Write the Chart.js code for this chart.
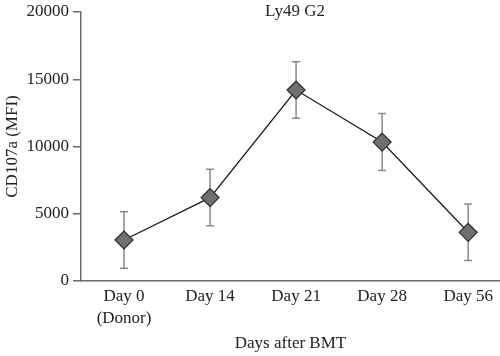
<!DOCTYPE html>
<html>
<head>
<meta charset="utf-8">
<script src="https://cdn.jsdelivr.net/npm/chart.js@4/dist/chart.umd.min.js"></script>
<style>
html,body{margin:0;padding:0;background:#fff;overflow:hidden;}
#wrap{width:500px;height:356px;}
</style>
</head>
<body>
<div id="wrap"><canvas id="c" width="500" height="356"></canvas></div>
<script>
const categories = [["Day 0", "(Donor)"], "Day 14", "Day 21", "Day 28", "Day 56"];
const meanValues = [3050, 6200, 14200, 10330, 3620];
const errorValues = [2100, 2100, 2100, 2120, 2100];
const yTicks = [0, 5000, 10000, 15000, 20000];
const chartTitle = "Ly49 G2";
const xTitle = "Days after BMT";
const yTitle = "CD107a (MFI)";

const FONT = "'Liberation Serif', 'DejaVu Serif', serif";
const points = meanValues.map((v, i) => ({x: i, y: v}));

const errorBarPlugin = {
  id: 'errorBars',
  beforeDatasetsDraw(chart) {
    const {ctx, scales: {x, y}} = chart;
    ctx.save();
    ctx.strokeStyle = '#8a8a8a';
    ctx.lineWidth = 1.5;
    meanValues.forEach((v, i) => {
      const px = x.getPixelForValue(i);
      const top = y.getPixelForValue(v + errorValues[i]);
      const bot = y.getPixelForValue(v - errorValues[i]);
      ctx.beginPath();
      ctx.moveTo(px, top); ctx.lineTo(px, bot);
      ctx.moveTo(px - 4, top); ctx.lineTo(px + 4, top);
      ctx.moveTo(px - 4, bot); ctx.lineTo(px + 4, bot);
      ctx.stroke();
    });
    ctx.restore();
  }
};

const titlePlugin = {
  id: 'topTitle',
  afterDraw(chart) {
    const {ctx} = chart;
    ctx.save();
    ctx.font = "17px " + FONT;
    ctx.fillStyle = '#222';
    ctx.textAlign = 'center';
    ctx.textBaseline = 'middle';
    ctx.fillText(chartTitle, 295, 12);
    ctx.restore();
  }
};

new Chart(document.getElementById('c'), {
  type: 'line',
  data: {
    datasets: [{
      data: points,
      borderColor: '#1a1a1a',
      borderWidth: 1.3,
      pointStyle: 'rectRot',
      pointRadius: 9,
      pointHoverRadius: 9,
      pointBackgroundColor: '#6f6f6f',
      pointBorderColor: '#2a2a2a',
      pointBorderWidth: 1.2,
      tension: 0,
      clip: false
    }]
  },
  options: {
    responsive: false,
    animation: false,
    layout: {autoPadding: false, padding: {top: 12, right: 0, left: 0, bottom: 0}},
    plugins: {legend: {display: false}, tooltip: {enabled: false}, title: {display: false}},
    scales: {
      x: {
        type: 'linear',
        min: -0.5,
        max: 4.37,
        afterBuildTicks(scale) { scale.ticks = categories.map((c, i) => ({value: i})); },
        afterFit(scale) { scale.height = 75; scale.paddingRight = 0; scale.paddingLeft = 0; },
        grid: {display: false},
        border: {display: true, color: '#6a6a6a', width: 1.5},
        ticks: {
          autoSkip: false,
          maxRotation: 0,
          padding: -4,
          color: '#222',
          font: {family: FONT, size: 17, lineHeight: 1.3},
          callback: (v) => categories[v]
        },
        title: {display: true, text: xTitle, color: '#222', font: {family: FONT, size: 17}, padding: {top: 0, bottom: 2}}
      },
      y: {
        min: 0,
        max: 20000,
        afterBuildTicks(scale) { scale.ticks = yTicks.map(v => ({value: v})); },
        afterFit(scale) { scale.width = 81; scale.paddingTop = 0; scale.paddingBottom = 0; },
        grid: {display: true, drawOnChartArea: false, drawTicks: true, tickLength: 8, color: '#6a6a6a', lineWidth: 1.5},
        border: {display: true, color: '#6a6a6a', width: 1.5},
        ticks: {padding: 4, color: '#222', font: {family: FONT, size: 17}, callback: (v) => String(v)},
        title: {display: true, text: yTitle, color: '#222', font: {family: FONT, size: 17}, padding: {top: 2, bottom: 2}}
      }
    }
  },
  plugins: [errorBarPlugin, titlePlugin]
});
</script>
</body>
</html>
